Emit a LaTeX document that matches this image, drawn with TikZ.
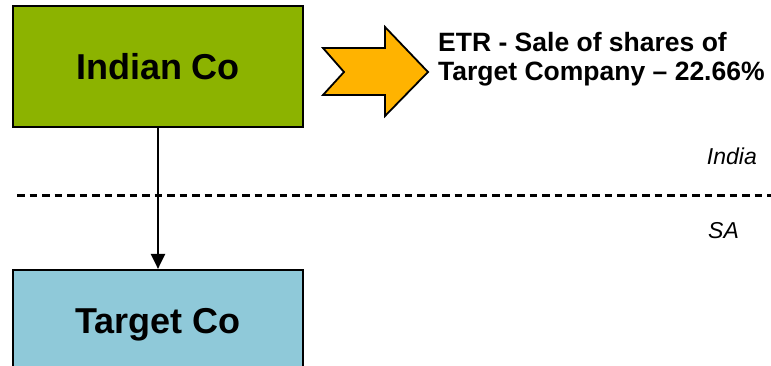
\documentclass[tikz,border=0pt]{standalone}
\usepackage{fontspec}
\setmainfont{Liberation Sans}
\usetikzlibrary{arrows.meta}
\definecolor{cogreen}{HTML}{8CB300}
\definecolor{coblue}{HTML}{8FC9D9}
\definecolor{coorange}{HTML}{FFB300}
\tikzset{
  cobox/.style={draw=black, line width=2.2pt, minimum width=290pt, inner sep=0pt,
     text height=26pt, text depth=0pt,
     font=\fontsize{36}{40}\selectfont\bfseries},
  region/.style={font=\fontsize{23}{26}\selectfont\itshape, inner sep=0pt},
  flow/.style={line width=2.2pt, -{Triangle[length=15pt,width=14pt]}},
}
\begin{document}
\begin{tikzpicture}[x=1pt,y=-1pt]
\useasboundingbox (0,0) rectangle (771,366);
\node[cobox, fill=cogreen, minimum height=121pt] (indian) at (158,66.5) {Indian Co};
\node[cobox, fill=coblue, minimum height=100pt] (target) at (158,320) {Target Co};
\draw[flow] (indian.south) -- (target.north);
\coordinate (dl) at (17,196);
\coordinate (dr) at (771,196);
\draw[line width=3pt, dash pattern=on 7.5pt off 5pt] (dl) -- (dr);
\node[region, anchor=base east] (india) at (757,165) {India};
\node[region, anchor=base west] (sa) at (708,238) {SA};
\draw[line width=1.8pt, fill=coorange, line join=miter]
  (323,48) -- (385,48) -- (385,27) -- (428,72) -- (385,116) -- (385,95)
  -- (323,95) -- (344,72) -- cycle;
\node[anchor=north west, align=left, inner sep=0pt,
      font=\fontsize{26.5}{29}\selectfont\bfseries] (etr) at (438,31.7)
  {ETR - Sale of shares of\\Target Company -- 22.66\%};
\end{tikzpicture}
\end{document}
